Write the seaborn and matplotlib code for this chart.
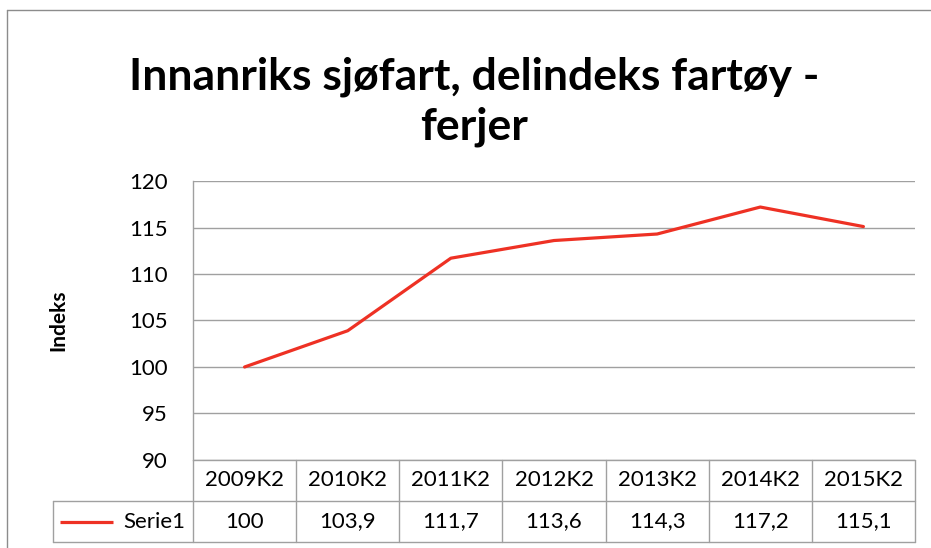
"""
Innanriks sjøfart, delindeks fartøy - ferjer.

Excel-style line chart with a data table under the x axis.
"""

import pandas as pd
import matplotlib.pyplot as plt
from matplotlib.lines import Line2D
import seaborn as sns

perioder = ['2009K2', '2010K2', '2011K2', '2012K2', '2013K2', '2014K2', '2015K2']
indeks = [100, 103.9, 111.7, 113.6, 114.3, 117.2, 115.1]
serie_navn = 'Serie1'
y_ticks = [90, 95, 100, 105, 110, 115, 120]

W, H = 931, 548
RED = '#ee3124'
GRID = '#a0a0a0'
FS = 16


def fmt_no(v):
    """Norwegian decimal comma."""
    return f"{v:g}".replace('.', ',')


def draw_table(tab, n, lab_cols):
    """Data table in column units: x -0.5..n-0.5, rows y 0..2 (top row = 2)."""
    lw = dict(color=GRID, linewidth=1, clip_on=False)
    x0, x1 = -0.5, n - 0.5
    xl = x0 - lab_cols
    # horizontal lines
    tab.plot([x0, x1], [2, 2], **lw)
    tab.plot([xl, x1], [1, 1], **lw)
    tab.plot([xl, x1], [0, 0], **lw)
    # vertical lines
    for i in range(n + 1):
        tab.plot([x0 + i, x0 + i], [0, 2], **lw)
    tab.plot([xl, xl], [0, 1], **lw)

    for i, (p, v) in enumerate(zip(perioder, indeks)):
        tab.text(i, 1.5, p, ha='center', va='center', fontsize=FS)
        tab.text(i, 0.5, fmt_no(v), ha='center', va='center', fontsize=FS)

    tab.text(x0 - 0.07, 0.5, serie_navn, ha='right', va='center', fontsize=FS)
    tab.plot([xl + 0.07, xl + 0.58], [0.5, 0.5], color=RED, linewidth=2.3,
             solid_capstyle='butt', clip_on=False)


def main():
    sns.set_style('white')
    plt.rcParams['font.family'] = ['Lato', 'DejaVu Sans']
    plt.rcParams['text.color'] = 'black'
    plt.rcParams['axes.labelcolor'] = 'black'
    plt.rcParams['ytick.color'] = 'black'

    df = pd.DataFrame({'periode': perioder, 'indeks': indeks})

    fig = plt.figure(figsize=(W / 100, H / 100), dpi=100)

    # plot area in pixels: x 193..915, y 181..460
    left, right, top, bottom = 193, 915, 181, 460
    ax = fig.add_axes([left / W, 1 - bottom / H, (right - left) / W, (bottom - top) / H])

    sns.lineplot(data=df, x='periode', y='indeks', ax=ax, color=RED,
                 linewidth=2.3, sort=False)

    ax.set_xlim(-0.5, len(perioder) - 0.5)
    ax.set_ylim(90, 120)
    ax.set_yticks(y_ticks)
    ax.set_yticklabels([str(t) for t in y_ticks])
    ax.tick_params(axis='y', length=0, pad=18, labelsize=FS)
    ax.set_xticks([])
    ax.set_xlabel('')
    ax.grid(axis='y', color=GRID, linewidth=1)
    ax.grid(axis='x', visible=False)
    for side in ['top', 'right', 'bottom']:
        ax.spines[side].set_visible(False)
    ax.spines['left'].set_color(GRID)
    ax.spines['left'].set_linewidth(1)

    ax.set_ylabel('Indeks', fontsize=15, fontweight='bold')
    ax.yaxis.set_label_coords((58 - left) / (right - left), 0.5)
    ax.yaxis.label.set_va('center')

    # data table below the plot area, same column scale as the chart
    tab_bottom = 542
    tab = fig.add_axes([left / W, 1 - tab_bottom / H, (right - left) / W,
                        (tab_bottom - bottom) / H], sharex=ax)
    tab.set_ylim(0, 2)
    tab.axis('off')
    col_w = (right - left) / len(perioder)
    draw_table(tab, len(perioder), (left - 53) / col_w)

    # chart border (left and top visible)
    fig.add_artist(Line2D([7 / W, 7 / W], [0, 1 - 10 / H], color='#8c8c8c', linewidth=1))
    fig.add_artist(Line2D([7 / W, 1], [1 - 10 / H, 1 - 10 / H], color='#8c8c8c', linewidth=1))

    fig.text(474 / W, 1 - 102 / H, 'Innanriks sjøfart, delindeks fartøy -\nferjer',
             ha='center', va='center', fontsize=32, fontweight='bold',
             linespacing=1.3)

    fig.savefig('out.png', dpi=100)


if __name__ == "__main__":
    main()
